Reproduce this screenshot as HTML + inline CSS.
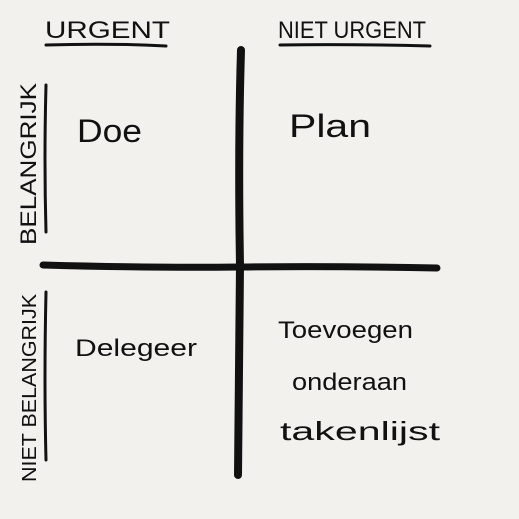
<!DOCTYPE html>
<html><head><meta charset="utf-8"><style>
html,body{margin:0;padding:0;background:#f2f1ee;}
svg{display:block;}
text{font-family:"Liberation Sans",sans-serif;fill:#111;}
</style></head><body>
<svg width="519" height="519" viewBox="0 0 519 519" xmlns="http://www.w3.org/2000/svg">
<rect width="519" height="519" fill="#f2f1ee"/>
<!-- axes -->
<path d="M241 50 Q238 150 240 265 Q239 380 238 475" stroke="#111" stroke-width="8" fill="none" stroke-linecap="round"/>
<path d="M43 265 Q150 268 240 267 Q340 266 437 268" stroke="#111" stroke-width="7" fill="none" stroke-linecap="round"/>
<!-- headers -->
<text x="45" y="38" font-size="24" textLength="125" lengthAdjust="spacingAndGlyphs">URGENT</text>
<path d="M46 45 Q110 43 166 46" stroke="#111" stroke-width="3" fill="none" stroke-linecap="round"/>
<text x="278" y="38" font-size="24" textLength="148" lengthAdjust="spacingAndGlyphs">NIET URGENT</text>
<path d="M280 45 Q350 44 430 46" stroke="#111" stroke-width="3" fill="none" stroke-linecap="round"/>
<!-- side labels -->
<text transform="translate(36,245) rotate(-90)" font-size="22" textLength="162" lengthAdjust="spacingAndGlyphs">BELANGRIJK</text>
<path d="M46 85 Q44 160 46 232" stroke="#111" stroke-width="3" fill="none" stroke-linecap="round"/>
<text transform="translate(36,482) rotate(-90)" font-size="20" textLength="188" lengthAdjust="spacingAndGlyphs">NIET BELANGRIJK</text>
<path d="M46 292 Q44 380 46 460" stroke="#111" stroke-width="3" fill="none" stroke-linecap="round"/>
<!-- quadrants -->
<text x="77" y="142" font-size="32" textLength="65" lengthAdjust="spacingAndGlyphs">Doe</text>
<text x="289" y="137" font-size="32" textLength="82" lengthAdjust="spacingAndGlyphs">Plan</text>
<text x="75" y="356" font-size="24" textLength="122" lengthAdjust="spacingAndGlyphs">Delegeer</text>
<text x="278" y="338" font-size="24" textLength="135" lengthAdjust="spacingAndGlyphs">Toevoegen</text>
<text x="292" y="390" font-size="24" textLength="115" lengthAdjust="spacingAndGlyphs">onderaan</text>
<text x="280" y="440" font-size="26" textLength="160" lengthAdjust="spacingAndGlyphs">takenlijst</text>
</svg>
</body></html>
